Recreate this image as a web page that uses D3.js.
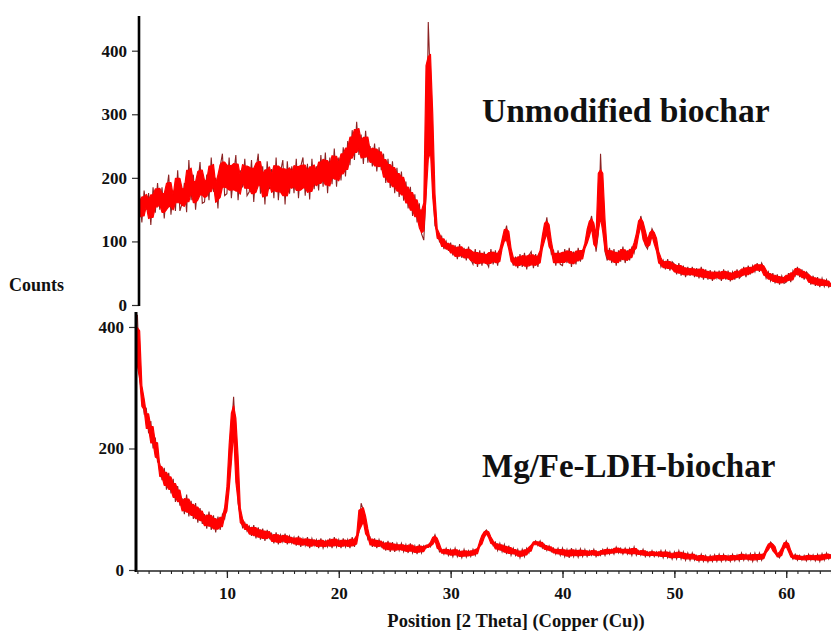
<!DOCTYPE html>
<html>
<head>
<meta charset="utf-8">
<script src="https://cdn.jsdelivr.net/npm/d3@7/dist/d3.min.js"></script>
<style>
  html, body { margin: 0; padding: 0; background: #fff; }
  svg { display: block; }
  text { font-family: "Liberation Serif", "Times New Roman", serif; font-weight: bold; fill: #111; }
</style>
</head>
<body>
<svg id="chart" width="831" height="633"></svg>
<script>
// XRD patterns, Cu K-alpha, sampled every 0.2 degrees 2-theta starting at 2.0
const thetaStart = 2.0;
const thetaStep = 0.2;

// Unmodified biochar (counts), one row per 2 degrees
const unmodifiedCounts = [
  140,172,130,180,150,176,126,185,145,192,   // 2
  150,185,136,178,205,142,180,148,212,148,   // 4
  160,192,146,228,165,205,150,190,225,160,   // 6
  162,205,165,232,178,200,152,218,238,172,   // 8
  175,232,168,205,236,165,212,185,230,172,   // 10
  178,228,162,212,238,175,218,158,226,182,   // 12
  214,168,232,165,210,228,158,226,175,218,   // 14
  176,230,168,218,232,172,222,166,230,182,   // 16
  218,180,236,186,240,176,232,190,246,186,   // 18
  232,196,248,202,258,220,275,228,288,236,   // 20
  268,222,274,224,250,218,254,210,248,212,   // 22
  238,192,230,184,226,176,216,170,210,164,   // 24
  194,152,186,140,174,130,160,112,102,175,   // 26
  445,345,190,125,115,100,108,88,100,85,     // 28
  98,78,94,72,96,74,90,70,92,72,             // 30
  64,88,60,86,62,84,68,60,88,64,             // 32
  86,62,84,94,108,125,96,78,62,76,           // 34
  58,80,60,82,56,78,84,58,80,60,             // 36
  82,92,116,138,106,80,86,62,86,64,          // 38
  62,88,66,90,60,84,64,90,68,86,             // 40
  90,100,126,140,116,84,112,238,150,84,      // 42
  70,90,66,88,62,86,68,92,66,86,             // 44
  70,92,82,102,120,140,124,94,88,106,        // 46
  120,112,90,78,60,70,56,72,54,68,           // 48
  64,48,66,46,62,44,60,46,60,44,             // 50
  58,42,60,40,56,40,55,38,54,42,             // 52
  54,38,56,40,54,37,52,40,56,42,             // 54
  46,60,44,62,48,62,52,66,52,66,             // 56
  58,42,52,38,50,34,48,32,46,34,             // 58
  36,50,36,54,46,60,44,56,40,52,             // 60
  48,32,46,30,44,28,42,29,40,28,             // 62
  34                                         // 64
];

// Mg/Fe-LDH-biochar (counts), one row per 2 degrees
const ldhCounts = [
  420,315,288,258,265,225,245,200,218,178,   // 2
  175,148,168,132,160,126,150,112,138,106,   // 4
  118,92,124,88,114,84,110,78,102,76,        // 6
  92,68,96,66,90,62,88,66,92,84,             // 8
  108,150,230,285,212,110,88,70,78,64,       // 10
  72,56,74,52,70,50,68,48,66,52,             // 12
  60,44,62,42,58,46,60,42,56,44,             // 14
  54,40,56,38,52,40,54,36,52,40,             // 16
  50,36,52,36,48,38,52,36,54,38,             // 18
  50,36,52,38,50,36,54,38,52,62,             // 20
  110,98,72,50,54,38,52,36,50,38,            // 22
  46,32,48,30,46,30,44,32,44,30,             // 24
  42,28,44,28,40,26,42,28,40,36,             // 26
  42,38,48,58,46,30,34,26,36,24,             // 28
  34,22,36,22,32,20,34,21,32,22,             // 30
  34,24,36,38,50,62,66,58,50,40,             // 32
  46,32,44,30,42,26,40,24,36,24,             // 34
  34,20,34,22,36,28,40,44,48,40,             // 36
  48,36,42,32,40,30,36,26,36,24,             // 38
  36,22,34,20,36,22,34,21,35,22,             // 40
  34,22,32,24,34,22,30,24,34,24,             // 42
  36,26,34,26,38,28,36,26,36,26,             // 44
  36,24,38,24,32,24,34,22,30,22,             // 46
  32,22,30,22,32,20,32,20,30,18,             // 48
  30,18,32,18,30,16,28,16,28,16,             // 50
  24,14,26,14,24,13,24,14,25,14,             // 52
  26,14,26,15,24,14,26,15,25,15,             // 54
  28,16,26,16,27,14,28,15,28,16,             // 56
  26,30,38,46,42,28,24,20,32,40,             // 58
  48,36,26,18,26,16,24,16,24,15,             // 60
  26,16,25,15,26,14,27,16,28,18,             // 62
  26                                         // 64
];

const topTicks = [0, 100, 200, 300, 400];
const bottomTicks = [0, 200, 400];
const xMajorTicks = [10, 20, 30, 40, 50, 60];
const seriesLabels = ["Unmodified biochar", "Mg/Fe-LDH-biochar"];
const xTitle = "Position [2 Theta] (Copper (Cu))";
const yTitle = "Counts";

const svg = d3.select("#chart");
const W = 831;

// shared 2-theta scale
const x = d3.scaleLinear().domain([1.875, 64]).range([136, 831]);

// panel layouts
const topPanel = { axisX: 139, y: d3.scaleLinear().domain([0, 453]).range([305, 17]) };
const botPanel = { axisX: 136, y: d3.scaleLinear().domain([0, 423]).range([570, 313]) };

function toPoints(arr) {
  return arr.map((v, i) => ({ t: thetaStart + i * thetaStep, c: v }));
}

// solid core band around the local 3-sample range; the raw trace shows its spike tips
function drawPattern(g, pts, y, clipId) {
  const core = 0.6;
  const band = pts.map((p, i) => {
    const w = pts.slice(Math.max(0, i - 1), Math.min(pts.length, i + 2)).map(d => d.c);
    const mn = d3.min(w), mx = d3.max(w);
    const mid = (mn + mx) / 2, half = (mx - mn) / 2 * core;
    return { t: p.t, lo: mid - half, hi: mid + half };
  });
  const trace = d3.line().x(d => x(d.t)).y(d => y(d.c));
  const area = d3.area().x(d => x(d.t)).y0(d => y(d.lo)).y1(d => y(d.hi));
  const layer = g.append("g").attr("clip-path", `url(#${clipId})`);
  layer.append("path").datum(pts).attr("d", trace)
    .attr("fill", "none").attr("stroke", "#8c2323").attr("stroke-width", 1.1);
  layer.append("path").datum(band).attr("d", area)
    .attr("fill", "#ff0000").attr("stroke", "#ff0000").attr("stroke-width", 1.2)
    .attr("stroke-linejoin", "round");
}

const defs = svg.append("defs");
defs.append("clipPath").attr("id", "clipTop").append("rect")
  .attr("x", topPanel.axisX + 1).attr("y", 0).attr("width", W - topPanel.axisX).attr("height", 306);
defs.append("clipPath").attr("id", "clipBot").append("rect")
  .attr("x", botPanel.axisX + 1).attr("y", 300).attr("width", W - botPanel.axisX).attr("height", 271);

drawPattern(svg.append("g"), toPoints(unmodifiedCounts), topPanel.y, "clipTop");
drawPattern(svg.append("g"), toPoints(ldhCounts), botPanel.y, "clipBot");

// y axes
function yAxis(panel, ticks, yTop, yBottom, sw) {
  const g = svg.append("g").attr("transform", `translate(${panel.axisX},0)`);
  g.call(d3.axisLeft(panel.y).tickValues(ticks).tickSize(7).tickPadding(5).tickFormat(d3.format("d")));
  g.select(".domain").remove();
  g.selectAll(".tick line").attr("stroke", "#333").attr("stroke-width", 1.2);
  g.selectAll(".tick text").attr("font-size", 17).attr("fill", "#111")
    .style("font-family", '"Liberation Serif", "Times New Roman", serif').style("font-weight", "bold");
  g.append("line").attr("x1", 0).attr("x2", 0).attr("y1", yTop).attr("y2", yBottom)
    .attr("stroke", "#000").attr("stroke-width", sw);
  return g;
}
yAxis(topPanel, topTicks, 16, 306, 2.6);
yAxis(botPanel, bottomTicks, 312, 572, 3);

// x axis with 1-degree minor ticks
const gx = svg.append("g").attr("transform", `translate(0,571)`);
gx.call(d3.axisBottom(x).tickValues(d3.range(2, 65, 1)).tickSize(3).tickFormat(""));
gx.select(".domain").remove();
gx.selectAll(".tick line").attr("stroke", "#222").attr("stroke-width", 1.1);
const gxMaj = svg.append("g").attr("transform", `translate(0,571)`);
gxMaj.call(d3.axisBottom(x).tickValues(xMajorTicks).tickSize(7).tickPadding(9).tickFormat(d3.format("d")));
gxMaj.select(".domain").remove();
gxMaj.selectAll(".tick line").attr("stroke", "#222").attr("stroke-width", 1.3);
gxMaj.selectAll(".tick text").attr("font-size", 17).attr("fill", "#111")
  .style("font-family", '"Liberation Serif", "Times New Roman", serif').style("font-weight", "bold");
svg.append("line").attr("x1", 136).attr("x2", W).attr("y1", 571).attr("y2", 571)
  .attr("stroke", "#222").attr("stroke-width", 1.6);

// titles
svg.append("text").attr("x", 516).attr("y", 627).attr("text-anchor", "middle")
  .attr("font-size", 18.5).text(xTitle);
svg.append("text").attr("x", 9).attr("y", 291).attr("font-size", 18).text(yTitle);

// series labels
svg.append("text").attr("x", 482).attr("y", 122).attr("font-size", 33.5).text(seriesLabels[0]);
svg.append("text").attr("x", 482).attr("y", 477).attr("font-size", 33).text(seriesLabels[1]);
</script>
</body>
</html>
